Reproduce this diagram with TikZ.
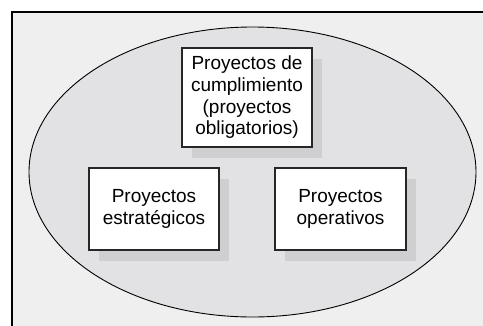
\documentclass[tikz,border=0pt]{standalone}
\usepackage{fontspec}
\setmainfont{Liberation Sans}
\usetikzlibrary{shadows}
\definecolor{bgfill}{HTML}{EFEFEF}
\definecolor{ellfill}{HTML}{E2E2E4}
\definecolor{shadowgray}{HTML}{CFCFD1}
\tikzset{
  projbox/.style={draw=black!85, line width=1.4pt, fill=white, align=center,
    inner sep=0pt, font=\fontsize{19}{21.7}\selectfont,
    general shadow={fill=shadowgray, shadow xshift=10pt, shadow yshift=-11pt}},
}
\begin{document}
\begin{tikzpicture}[x=1pt,y=-1pt]
  \useasboundingbox (0,0) rectangle (483,325);
  \clip (0,0) rectangle (483,325);
  \fill[white] (0,0) rectangle (483,325);
  \draw[line width=1.5pt, fill=bgfill] (12,12) rectangle (495,340);
  \draw[line width=0.9pt, fill=ellfill] (252.5,172) ellipse [x radius=223.5, y radius=145];
  \node[projbox, minimum width=130pt, minimum height=99pt] (cumpl) at (247,97.5)
    {Proyectos de\\cumplimiento\\(proyectos\\obligatorios)};
  \node[projbox, minimum width=130pt, minimum height=82pt] (estr) at (154,209)
    {Proyectos\\estratégicos};
  \node[projbox, minimum width=131pt, minimum height=82pt] (oper) at (340.5,209)
    {Proyectos\\operativos};
\end{tikzpicture}
\end{document}
